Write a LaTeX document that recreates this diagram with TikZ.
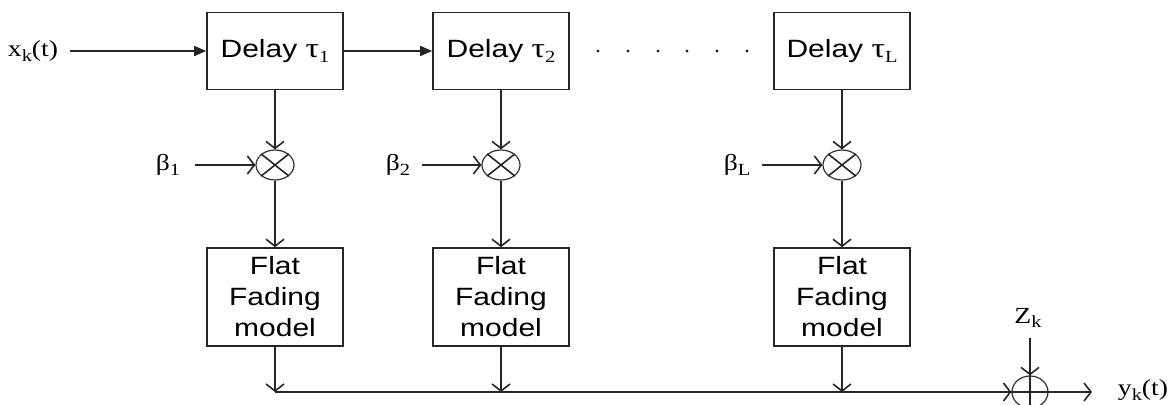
\documentclass[tikz,border=0pt]{standalone}
\usepackage{fontspec}
\setmainfont{Liberation Sans}[FakeStretch=1.2]
\newfontfamily\serifl{Liberation Serif}[FakeStretch=1.2]
\usetikzlibrary{arrows.meta,shapes.geometric}
\newcommand\lowsub[1]{\raisebox{-.45ex}{\fontsize{8.5}{9}\selectfont#1}}

\begin{document}
\begin{tikzpicture}[
  x=.5pt,y=.5pt,
  block/.style={draw=black!85,fill=white,line width=.8pt,minimum width=68pt,
    minimum height=38.5pt,inner sep=1pt,font=\fontsize{12.5}{15.5}\selectfont},
  fblock/.style={block,minimum height=49pt,align=center},
  mult/.style={ellipse,draw=black!80,line width=.6pt,minimum width=19pt,
    minimum height=15pt,inner sep=0pt},
  adder/.style={mult,minimum width=18pt,minimum height=16pt},
  sig/.style={font=\serifl\fontsize{11.5}{13}\selectfont},
  wire/.style={draw=black!85,line width=.8pt},
  feed/.style={wire,-{Triangle[length=6pt,width=5pt]}},
  tap/.style={wire,-{Straight Barb[length=3.5pt,width=9pt]}}
]
  \useasboundingbox (0,0) rectangle (1176,-405);
  % delay line
  \node[block] (d1) at (275,-51) {Delay {\serifl\fontsize{14}{15}\selectfont τ\lowsub{1}}};
  \node[block] (d2) at (501,-51) {Delay {\serifl\fontsize{14}{15}\selectfont τ\lowsub{2}}};
  \node[block] (dL) at (842,-51) {Delay {\serifl\fontsize{14}{15}\selectfont τ\lowsub{L}}};
  \node[sig] (xk) at (33,-51) {x\lowsub{k}(t)};
  \coordinate (xin) at (70,-51);
  \draw[feed] (xin) -- (d1);
  \draw[feed] (d1) -- (d2);
  \fill[black!85] (598,-51) circle[radius=.8pt] (628,-51) circle[radius=.8pt]
    (658,-51) circle[radius=.8pt] (687,-51) circle[radius=.8pt]
    (717,-51) circle[radius=.8pt] (747,-51) circle[radius=.8pt];
  % tap weights
  \node[mult] (m1) at (275,-165) {};
  \node[mult] (m2) at (501,-165) {};
  \node[mult] (mL) at (842,-165) {};
  \draw[wire] (m1.north east) -- (m1.south west) (m1.north west) -- (m1.south east);
  \draw[wire] (m2.north east) -- (m2.south west) (m2.north west) -- (m2.south east);
  \draw[wire] (mL.north east) -- (mL.south west) (mL.north west) -- (mL.south east);
  \node[sig] (b1) at (168,-165) {β\lowsub{1}};
  \node[sig] (b2) at (398,-165) {β\lowsub{2}};
  \node[sig] (bL) at (737,-165) {β\lowsub{L}};
  \coordinate (b1in) at (195,-165);
  \coordinate (b2in) at (422,-165);
  \coordinate (bLin) at (762,-165);
  \draw[tap] (b1in) -- (m1);
  \draw[tap] (b2in) -- (m2);
  \draw[tap] (bLin) -- (mL);
  \draw[tap] (d1) -- (m1);
  \draw[tap] (d2) -- (m2);
  \draw[tap] (dL) -- (mL);
  % fading branches
  \node[fblock] (f1) at (275,-297) {Flat\\Fading\\model};
  \node[fblock] (f2) at (501,-297) {Flat\\Fading\\model};
  \node[fblock] (fL) at (842,-297) {Flat\\Fading\\model};
  \draw[tap] (m1) -- (f1);
  \draw[tap] (m2) -- (f2);
  \draw[tap] (mL) -- (fL);
  \coordinate (j1) at (275,-392);
  \coordinate (j2) at (501,-392);
  \coordinate (jL) at (842,-392);
  \draw[tap] (f1) -- (j1);
  \draw[tap] (f2) -- (j2);
  \draw[tap] (fL) -- (jL);
  % noise and output
  \node[adder] (sum) at (1030,-392) {};
  \draw[tap] (j1) -- (sum);
  \draw[wire] (sum.north) -- (sum.south) (sum.west) -- (sum.east);
  \node[sig] (zk) at (1028,-318) {Z\lowsub{k}};
  \coordinate (zin) at (1030,-338);
  \draw[tap] (zin) -- (sum);
  \coordinate (yout) at (1092,-392);
  \draw[tap] (sum) -- (yout);
  \node[sig] (yk) at (1143,-390) {y\lowsub{k}(t)};
\end{tikzpicture}
\end{document}
